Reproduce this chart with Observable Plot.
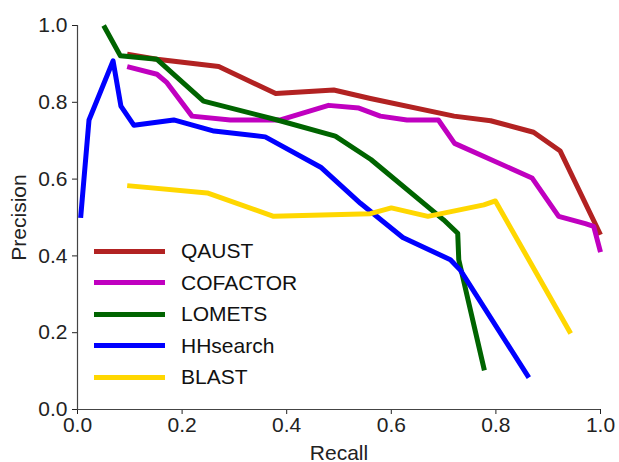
<!DOCTYPE html>
<html>
<head>
<meta charset="utf-8">
<script src="https://cdn.jsdelivr.net/npm/d3@7"></script>
<script src="https://cdn.jsdelivr.net/npm/@observablehq/plot@0.6"></script>
<style>
  html, body { margin: 0; padding: 0; background: #fff; }
  #wrap { position: relative; width: 619px; height: 462px; font-family: "Liberation Sans", Arial, sans-serif; }
  #legend { position: absolute; left: 0; top: 0; }
  .row { position: absolute; left: 94px; height: 32px; display: flex; align-items: center; font-size: 21px; color: #111; white-space: nowrap; }
  .sw { width: 71px; height: 5px; margin-right: 16px; }
</style>
</head>
<body>
<div id="wrap"></div>
<script>
const series = ["QAUST", "COFACTOR", "LOMETS", "HHsearch", "BLAST"];
const colors = ["#B22222", "#C000C0", "#006400", "#0000FF", "#FFD700"];
const ticks = [0, 0.2, 0.4, 0.6, 0.8, 1.0];

const QAUST_recall = [0.095, 0.152, 0.27, 0.379, 0.49, 0.56, 0.72, 0.79, 0.872, 0.923, 1.0];
const QAUST_precision = [0.925, 0.912, 0.893, 0.823, 0.832, 0.81, 0.764, 0.752, 0.722, 0.673, 0.455];

const COFACTOR_recall = [0.095, 0.152, 0.171, 0.219, 0.292, 0.388, 0.48, 0.538, 0.579, 0.63, 0.69, 0.721, 0.869, 0.92, 0.971, 0.987, 1.0];
const COFACTOR_precision = [0.893, 0.873, 0.851, 0.764, 0.754, 0.754, 0.792, 0.785, 0.764, 0.754, 0.754, 0.693, 0.603, 0.503, 0.484, 0.477, 0.41];

const LOMETS_recall = [0.05, 0.082, 0.152, 0.241, 0.382, 0.493, 0.561, 0.70, 0.727, 0.729, 0.778];
const LOMETS_precision = [1.0, 0.921, 0.912, 0.803, 0.754, 0.712, 0.651, 0.494, 0.459, 0.39, 0.102];

const HHsearch_recall = [0.006, 0.022, 0.068, 0.083, 0.108, 0.184, 0.261, 0.359, 0.465, 0.541, 0.622, 0.713, 0.732, 0.863];
const HHsearch_precision = [0.499, 0.754, 0.908, 0.79, 0.74, 0.754, 0.725, 0.71, 0.631, 0.537, 0.448, 0.39, 0.363, 0.083];

const BLAST_recall = [0.095, 0.248, 0.375, 0.56, 0.6, 0.67, 0.777, 0.799, 0.943];
const BLAST_precision = [0.583, 0.564, 0.503, 0.51, 0.525, 0.503, 0.533, 0.543, 0.198];

const raw = {
  QAUST: [QAUST_recall, QAUST_precision],
  COFACTOR: [COFACTOR_recall, COFACTOR_precision],
  LOMETS: [LOMETS_recall, LOMETS_precision],
  HHsearch: [HHsearch_recall, HHsearch_precision],
  BLAST: [BLAST_recall, BLAST_precision]
};

const rows = [];
series.forEach((s) => {
  const [r, p] = raw[s];
  r.forEach((v, i) => rows.push({series: s, recall: v, precision: p[i]}));
});

const chart = Plot.plot({
  width: 619,
  height: 462,
  marginLeft: 77,
  marginRight: 19,
  marginTop: 25,
  marginBottom: 53,
  style: {fontFamily: "'Liberation Sans', Arial, sans-serif", fontSize: "21px", color: "#222", background: "#fff"},
  x: {domain: [0, 1]},
  y: {domain: [0, 1]},
  color: {domain: series, range: colors},
  marks: [
    Plot.axisX({ticks, tickFormat: d3.format(".1f"), tickSize: 5, tickPadding: 3, label: "Recall", labelAnchor: "center", labelArrow: "none"}),
    Plot.axisY({ticks, tickFormat: d3.format(".1f"), tickSize: 5, tickPadding: 5, label: "Precision", labelAnchor: "center", labelArrow: "none", labelOffset: 66}),
    Plot.ruleX([0], {stroke: "#444", strokeWidth: 1.2}),
    Plot.ruleY([0], {stroke: "#444", strokeWidth: 1.2}),
    Plot.line(rows, {x: "recall", y: "precision", z: "series", stroke: "series", strokeWidth: 5, strokeLinecap: "butt", strokeLinejoin: "round"})
  ]
});

const wrap = document.getElementById("wrap");
wrap.appendChild(chart);

const legend = document.createElement("div");
legend.id = "legend";
series.forEach((s, i) => {
  const row = document.createElement("div");
  row.className = "row";
  row.style.top = (235 + i * 31.5) + "px";
  const sw = document.createElement("span");
  sw.className = "sw";
  sw.style.background = colors[i];
  const t = document.createElement("span");
  t.textContent = s;
  row.appendChild(sw);
  row.appendChild(t);
  legend.appendChild(row);
});
wrap.appendChild(legend);
</script>
</body>
</html>
